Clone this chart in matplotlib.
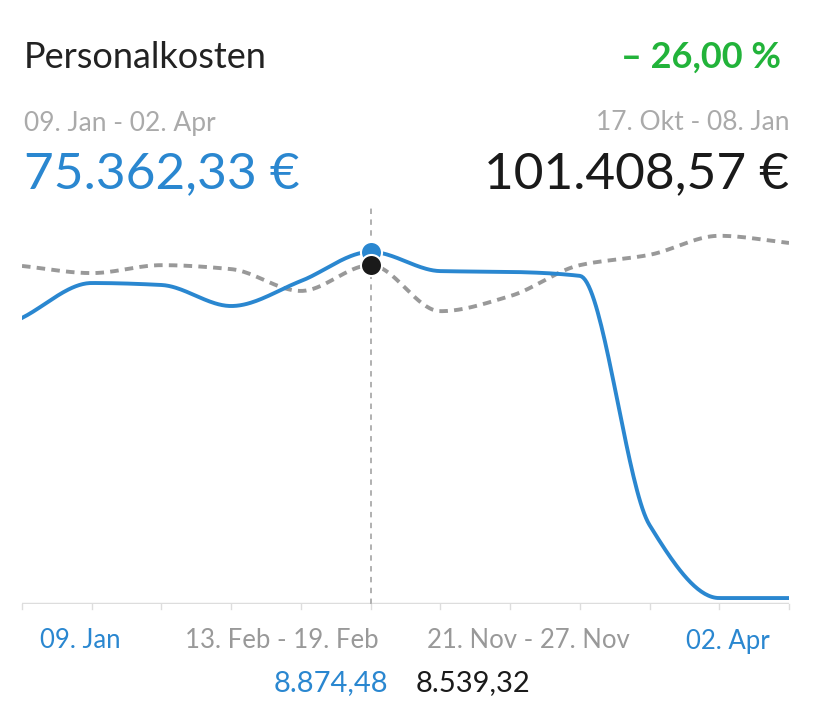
import numpy as np
import matplotlib
matplotlib.use("Agg")
import matplotlib.pyplot as plt

plt.rcParams['font.family'] = ['Lato', 'DejaVu Sans']

current = [7210, 8090, 8040, 7510, 8140, 8874.48, 8390, 8370, 8270, 1990, 150, 150]
previous = [8520, 8340, 8540, 8440, 7890, 8539.32, 7380, 7760, 8540, 8800, 9280, 9100]
hover_idx = 5

BLUE = '#2a87d0'
GREY = '#999999'

def pchip(y, n=40):
    y = np.asarray(y, float)
    x = np.arange(len(y), dtype=float)
    h = np.diff(x); d = np.diff(y) / h
    m = np.zeros_like(y)
    for k in range(1, len(y) - 1):
        if d[k-1] * d[k] > 0:
            m[k] = 2 / (1 / d[k-1] + 1 / d[k])
    m[0] = d[0]; m[-1] = d[-1]
    xs, ys = [], []
    for k in range(len(y) - 1):
        t = np.linspace(0, 1, n)
        h00 = 2*t**3 - 3*t**2 + 1; h10 = t**3 - 2*t**2 + t
        h01 = -2*t**3 + 3*t**2; h11 = t**3 - t**2
        xs.append(x[k] + t * h[k])
        ys.append(h00*y[k] + h10*h[k]*m[k] + h01*y[k+1] + h11*h[k]*m[k+1])
    return np.concatenate(xs), np.concatenate(ys)

fig = plt.figure(figsize=(8.14, 7.15), dpi=100)
W, H = 814, 715
ax = fig.add_axes([22/W, (H-604)/H, (789-22)/W, (604-210)/H])
n = len(current)
ax.set_xlim(0, n-1)
ax.set_ylim(0, 9930)
for s in ax.spines.values():
    s.set_visible(False)
ax.set_xticks([]); ax.set_yticks([])
ax.axhline(0, color='#dddddd', lw=2.5, zorder=1)
for i in range(n):
    ax.plot([i, i], [0, -120], color='#dddddd', lw=1, clip_on=False)

xp, yp = pchip(previous)
ax.plot(xp, yp, color=GREY, lw=2.8, ls=(0, (2.2, 1.6)), zorder=2)
xc, yc = pchip(current)
ax.plot(xc, yc, color=BLUE, lw=2.8, zorder=3)
ax.axvline(hover_idx, ymin=-0.0, ymax=1.01, color='#aaaaaa', lw=1.3, ls=(0, (3, 3)), zorder=1, clip_on=False)
ax.scatter([hover_idx], [current[hover_idx]], s=230, color=BLUE, edgecolor='white', lw=1.5, zorder=5)
ax.scatter([hover_idx], [previous[hover_idx]], s=230, color='#1a1a1a', edgecolor='white', lw=1.5, zorder=6)

def t(x, y, s, **kw):
    fig.text(x/W, 1 - y/H, s, **kw)

t(24, 57, 'Personalkosten', fontsize=26, color='#222222', va='center')
t(781, 57, '– 26,00 %', fontsize=26, color='#22b33a', va='center', ha='right', fontweight='bold')
t(24, 123, '09. Jan - 02. Apr', fontsize=19, color='#aaaaaa', va='center')
t(789, 123, '17. Okt - 08. Jan', fontsize=19, color='#aaaaaa', va='center', ha='right')
t(24, 174, '75.362,33 €', fontsize=37, color=BLUE, va='center')
t(789, 174, '101.408,57 €', fontsize=37, color='#1a1a1a', va='center', ha='right')

t(80, 641, '09. Jan', fontsize=18.5, color=BLUE, va='center', ha='center')
t(282, 641, '13. Feb - 19. Feb', fontsize=18.5, color='#999999', va='center', ha='center')
t(528, 641, '21. Nov - 27. Nov', fontsize=18.5, color='#999999', va='center', ha='center')
t(728, 641, '02. Apr', fontsize=18.5, color=BLUE, va='center', ha='center')
t(388, 683, '8.874,48', fontsize=21, color=BLUE, va='center', ha='right')
t(416, 683, '8.539,32', fontsize=21, color='#1a1a1a', va='center', ha='left')

fig.savefig('out.png', dpi=100)
